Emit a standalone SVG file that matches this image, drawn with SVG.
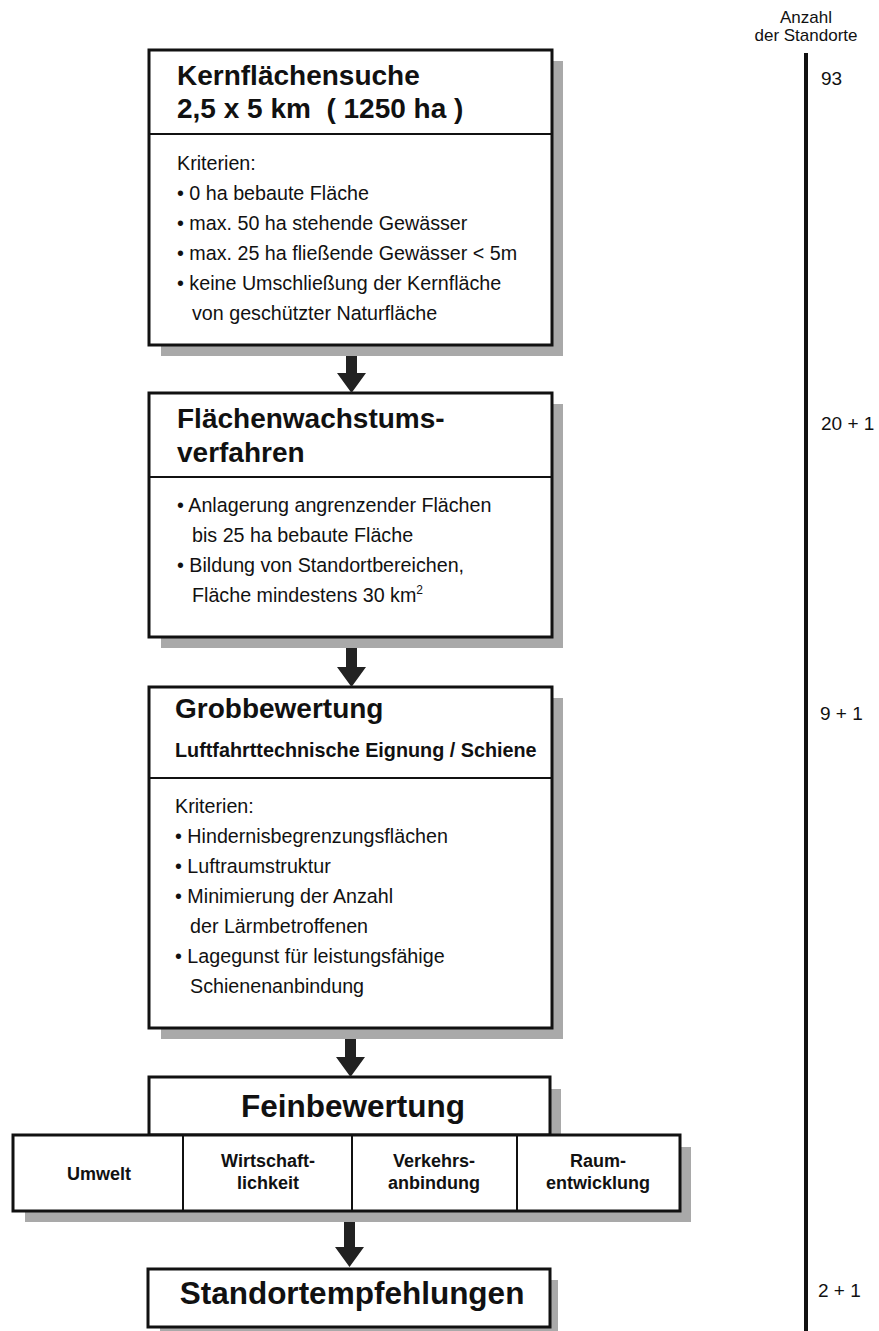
<svg xmlns="http://www.w3.org/2000/svg" width="879" height="1331" viewBox="0 0 879 1331">
<defs>
<style>
text{font-family:"Liberation Sans",Arial,Helvetica,sans-serif;fill:#111}
.box{fill:#fff;stroke:#111;stroke-width:3}
.shadow{fill:#a9a9a9}
.div{stroke:#111;stroke-width:2}
.title{font-size:28px;font-weight:bold}
.sub{font-size:19.8px;font-weight:bold}
.body{font-size:19.7px}
.cell{font-size:18px;font-weight:bold;text-anchor:middle}
.big{font-size:31.5px;font-weight:bold;text-anchor:middle}
.count{font-size:19px}
.arrow{fill:#222}
</style>
</defs>
<rect width="879" height="1331" fill="#fff"/>

<g id="kernflaechensuche">
<rect class="shadow" x="161" y="61" width="402" height="295"/>
<rect class="box" x="149" y="50" width="403" height="295"/>
<line class="div" x1="149" y1="134" x2="552" y2="134"/>
<text class="title" x="177" y="85">Kernflächensuche</text>
<text class="title" x="177" y="118" xml:space="preserve">2,5 x 5 km  ( 1250 ha )</text>
<text class="body" x="177" y="170">Kriterien:</text>
<text class="body" x="177" y="200">• 0 ha bebaute Fläche</text>
<text class="body" x="177" y="230">• max. 50 ha stehende Gewässer</text>
<text class="body" x="177" y="260">• max. 25 ha fließende Gewässer &lt; 5m</text>
<text class="body" x="177" y="290">• keine Umschließung der Kernfläche</text>
<text class="body" x="192" y="320">von geschützter Naturfläche</text>
</g>

<g id="flaechenwachstum">
<rect class="shadow" x="161" y="404" width="402" height="244"/>
<rect class="box" x="149" y="393" width="403" height="244"/>
<line class="div" x1="149" y1="477" x2="552" y2="477"/>
<text class="title" x="177" y="428">Flächenwachstums-</text>
<text class="title" x="177" y="462">verfahren</text>
<text class="body" x="177" y="512">• Anlagerung angrenzender Flächen</text>
<text class="body" x="192" y="542">bis 25 ha bebaute Fläche</text>
<text class="body" x="177" y="572">• Bildung von Standortbereichen,</text>
<text class="body" x="192" y="602">Fläche mindestens 30 km<tspan font-size="12" dy="-8">2</tspan></text>
</g>

<g id="grobbewertung">
<rect class="shadow" x="161" y="698" width="402" height="341"/>
<rect class="box" x="149" y="687" width="403" height="341"/>
<line class="div" x1="149" y1="778" x2="552" y2="778"/>
<text class="title" x="175" y="718">Grobbewertung</text>
<text class="sub" x="175" y="757">Luftfahrttechnische Eignung / Schiene</text>
<text class="body" x="175" y="813">Kriterien:</text>
<text class="body" x="175" y="843">• Hindernisbegrenzungsflächen</text>
<text class="body" x="175" y="873">• Luftraumstruktur</text>
<text class="body" x="175" y="903">• Minimierung der Anzahl</text>
<text class="body" x="190" y="933">der Lärmbetroffenen</text>
<text class="body" x="175" y="963">• Lagegunst für leistungsfähige</text>
<text class="body" x="190" y="993">Schienenanbindung</text>
</g>

<g id="feinbewertung">
<rect class="shadow" x="160" y="1089" width="401" height="60"/>
<rect class="shadow" x="25" y="1147" width="666" height="75"/>
<rect class="box" x="149" y="1077" width="401" height="58"/>
<text class="big" x="353" y="1117">Feinbewertung</text>
<rect class="box" x="13" y="1135" width="667" height="76"/>
<line class="div" x1="183" y1="1135" x2="183" y2="1211"/>
<line class="div" x1="352" y1="1135" x2="352" y2="1211"/>
<line class="div" x1="517" y1="1135" x2="517" y2="1211"/>
<g id="umwelt"><text class="cell" x="99" y="1180">Umwelt</text></g>
<g id="wirtschaftlichkeit"><text class="cell" x="268" y="1167">Wirtschaft-</text><text class="cell" x="268" y="1189">lichkeit</text></g>
<g id="verkehrsanbindung"><text class="cell" x="434" y="1167">Verkehrs-</text><text class="cell" x="434" y="1189">anbindung</text></g>
<g id="raumentwicklung"><text class="cell" x="598" y="1167">Raum-</text><text class="cell" x="598" y="1189">entwicklung</text></g>
</g>

<g id="standortempfehlungen">
<rect class="shadow" x="160" y="1280" width="398" height="51"/>
<rect class="box" x="148" y="1269" width="402" height="58"/>
<text class="big" x="352" y="1304" font-size="33">Standortempfehlungen</text>
</g>

<g id="connectors">
<path class="arrow" d="M346 356 H357 V373 H366 L351.5 393 L337 373 H346 Z"/>
<path class="arrow" d="M346 648 H357 V667 H366 L351.5 687 L337 667 H346 Z"/>
<path class="arrow" d="M345 1039 H356 V1057 H365 L350.5 1077 L336 1057 H345 Z"/>
<path class="arrow" d="M344 1222 H355 V1247 H364 L349.5 1267 L335 1247 H344 Z"/>
</g>

<g id="anzahl">
<text x="806" y="23" text-anchor="middle" font-size="17">Anzahl</text>
<text x="806" y="41" text-anchor="middle" font-size="17">der Standorte</text>
<line x1="806" y1="53" x2="806" y2="1331" stroke="#111" stroke-width="4"/>
<text class="count" x="821" y="85">93</text>
<text class="count" x="821" y="430">20 + 1</text>
<text class="count" x="820" y="720">9 + 1</text>
<text class="count" x="818" y="1297">2 + 1</text>
</g>
</svg>
